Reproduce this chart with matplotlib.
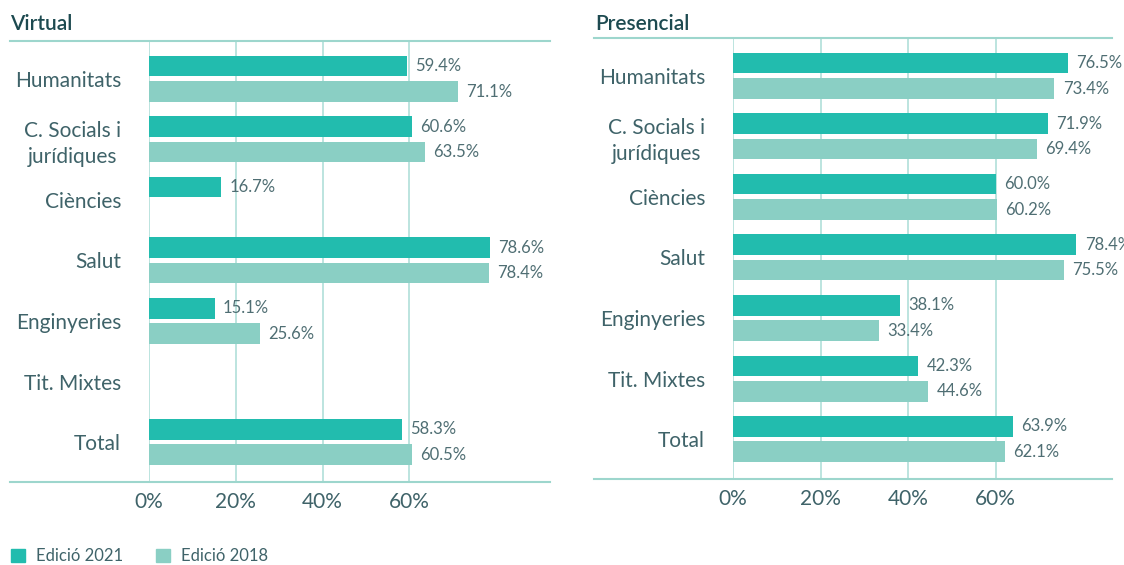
import numpy as np
import matplotlib.pyplot as plt
from matplotlib.patches import Patch

plt.rcParams['font.family'] = ['Lato', 'DejaVu Sans']

categories = ['Humanitats', 'C. Socials i\njurídiques', 'Ciències', 'Salut',
              'Enginyeries', 'Tit. Mixtes', 'Total']
virtual_2021 = [59.4, 60.6, 16.7, 78.6, 15.1, np.nan, 58.3]
virtual_2018 = [71.1, 63.5, np.nan, 78.4, 25.6, np.nan, 60.5]
presencial_2021 = [76.5, 71.9, 60.0, 78.4, 38.1, 42.3, 63.9]
presencial_2018 = [73.4, 69.4, 60.2, 75.5, 33.4, 44.6, 62.1]
ticks = [0, 20, 40, 60]
tick_labels = ['0%', '20%', '40%', '60%']
series_names = ['Edició 2021', 'Edició 2018']

c2021 = '#22bcae'
c2018 = '#8acfc4'
grid_c = '#b6e2dc'
line_c = '#9dd6cd'
label_c = '#3f6369'
value_c = '#4f6e73'
title_c = '#1d4a50'

W, H = 1124, 565
fig = plt.figure(figsize=(W / 100, H / 100), dpi=100)


def panel(left, right, top, bottom, line_left, xmax, title, title_x, v21, v18):
    ax = fig.add_axes([left / W, 1 - bottom / H, (right - left) / W, (bottom - top) / H])
    y = np.arange(len(categories))
    ax.barh(y - 0.21, v21, height=0.34, color=c2021, zorder=2)
    ax.barh(y + 0.21, v18, height=0.34, color=c2018, zorder=2)
    for yy, v in zip(y, v21):
        if not np.isnan(v):
            ax.text(v + 1.9, yy - 0.21, f'{v:.1f}%', va='center', ha='left',
                    fontsize=12, color=value_c)
    for yy, v in zip(y, v18):
        if not np.isnan(v):
            ax.text(v + 1.9, yy + 0.21, f'{v:.1f}%', va='center', ha='left',
                    fontsize=12, color=value_c)
    ax.set_xlim(0, xmax)
    ax.set_ylim(6.66, -0.63)
    ax.set_xticks(ticks)
    ax.set_xticklabels(tick_labels)
    ax.set_yticks(y)
    ax.set_yticklabels(categories, multialignment='center', linespacing=1.35)
    ax.tick_params(axis='x', length=0, pad=7, labelsize=15, labelcolor=label_c)
    ax.tick_params(axis='y', length=0, pad=20, labelsize=15, labelcolor=label_c)
    ax.grid(axis='x', color=grid_c, lw=1.3, zorder=0)
    for s in ax.spines.values():
        s.set_visible(False)
    x0 = (line_left - left) / (right - left)
    for yl in (0, 1):
        ax.plot([x0, 1], [yl, yl], transform=ax.transAxes, color=line_c,
                lw=1.5, clip_on=False)
    fig.text(title_x / W, 1 - 30 / H, title, fontsize=15, fontweight='semibold',
             color=title_c, va='baseline', ha='left')
    return ax


panel(149, 550, 40.7, 482, 10, 401 / 4.34, 'Virtual', 10, virtual_2021, virtual_2018)
panel(733, 1112, 37.7, 479, 594, 379 / 4.38, 'Presencial', 595, presencial_2021, presencial_2018)

handles = [Patch(color=c2021), Patch(color=c2018)]
leg = fig.legend(handles, series_names, loc='center left',
                 bbox_to_anchor=(11 / W, 1 - 556 / H), borderaxespad=0, borderpad=0,
                 ncol=2, frameon=False, fontsize=12, handlelength=0.85,
                 handleheight=0.85, handletextpad=0.65, columnspacing=1.95)
for t in leg.get_texts():
    t.set_color(label_c)

fig.savefig('out.png', dpi=100)
